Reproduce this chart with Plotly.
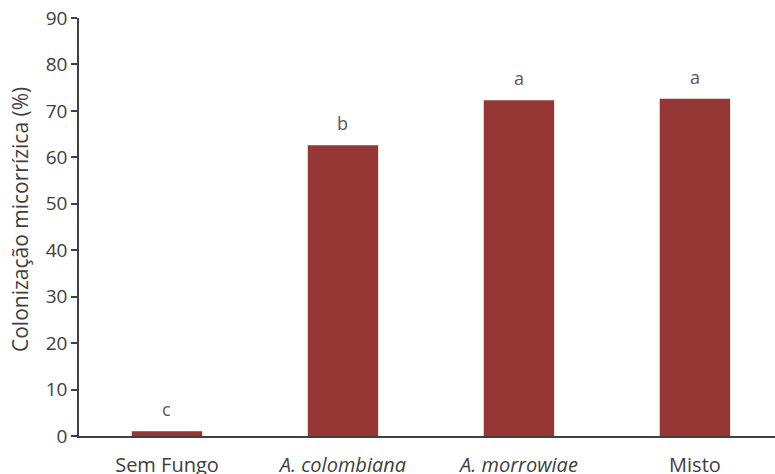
import plotly.graph_objects as go

categories = ["Sem Fungo", "<i>A. colombiana</i>", "<i>A. morrowiae</i>", "Misto"]
values = [1.0, 62.6, 72.3, 72.6]
letters = ["c", "b", "a", "a"]
y_ticks = [0, 10, 20, 30, 40, 50, 60, 70, 80, 90]

font_family = "Open Sans, Lato, sans-serif"
bar_color = "#953735"

fig = go.Figure()
fig.add_trace(go.Bar(
    x=list(range(len(categories))),
    y=values,
    width=0.4,
    marker=dict(color=bar_color, line=dict(width=0)),
    hoverinfo="skip",
))

for i, (v, t) in enumerate(zip(values, letters)):
    fig.add_annotation(
        x=i, y=v, text=t, showarrow=False,
        yanchor="bottom", yshift=8,
        font=dict(family=font_family, size=18, color="#595959"),
    )

fig.add_annotation(
    xref="paper", yref="paper", x=0, y=0.5,
    xanchor="center", yanchor="middle", xshift=-59, yshift=7,
    textangle=-90, showarrow=False,
    text="Colonização micorrízica (%)",
    font=dict(family=font_family, size=21, color="#404040"),
)

fig.update_layout(
    width=775, height=474,
    margin=dict(l=79, r=0, t=18, b=38),
    plot_bgcolor="white", paper_bgcolor="white",
    showlegend=False,
    font=dict(family=font_family, size=20, color="#404040"),
    xaxis=dict(
        range=[-0.5, 3.455],
        tickmode="array",
        tickvals=list(range(len(categories))),
        ticktext=categories,
        showline=True, linecolor="#404040", linewidth=1.5,
        ticks="outside", ticklen=10, tickcolor="rgba(0,0,0,0)",
        showgrid=False, zeroline=False, automargin=False,
        tickfont=dict(size=20, color="#404040"),
    ),
    yaxis=dict(
        range=[0, 90],
        tickmode="array",
        tickvals=y_ticks,
        showline=True, linecolor="#404040", linewidth=1.5,
        ticks="outside", ticklen=6, tickcolor="#404040", tickwidth=1.5,
        showgrid=False, zeroline=False, automargin=False,
        tickfont=dict(size=19, color="#404040"),
    ),
)

fig.write_html(
    "out.html",
    config={"displayModeBar": False},
    post_script="document.body.style.margin='0';document.body.style.overflow='hidden';",
)
